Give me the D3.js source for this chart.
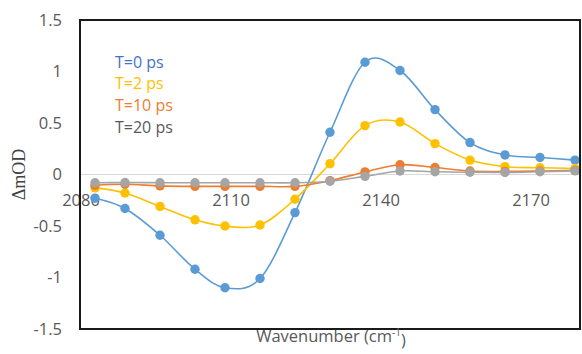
<!DOCTYPE html>
<html>
<head>
<meta charset="utf-8">
<script src="https://cdn.jsdelivr.net/npm/d3@7"></script>
<style>
  body { margin: 0; background: #fff; }
  svg { display: block; }
  .tick-label { font-family: 'Open Sans', sans-serif; font-size: 16.5px; fill: #595959; }
  .legend text { font-family: 'Open Sans', sans-serif; font-size: 16px; }
</style>
</head>
<body>
<svg id="chart"></svg>
<script>
const WIDTH  = 582;
const HEIGHT = 354;
const PLOT   = { left: 80, right: 580, top: 20, bottom: 329 };

// wavenumbers of the measured points (cm-1)
const wavenumbers = [2083, 2089, 2096, 2103, 2109, 2116, 2123, 2130, 2137, 2144, 2151, 2158, 2165, 2172, 2179];

const t0  = [-0.23, -0.33, -0.59, -0.92, -1.10, -1.01, -0.37, 0.41, 1.09, 1.01, 0.63, 0.31, 0.19, 0.165, 0.14];
const t2  = [-0.13, -0.18, -0.31, -0.44, -0.50, -0.49, -0.24, 0.105, 0.475, 0.51, 0.30, 0.14, 0.076, 0.066, 0.058];
const t10 = [-0.105, -0.095, -0.11, -0.115, -0.115, -0.115, -0.115, -0.06, 0.025, 0.095, 0.068, 0.034, 0.03, 0.034, 0.04];
const t20 = [-0.08, -0.078, -0.08, -0.08, -0.08, -0.08, -0.08, -0.065, -0.018, 0.034, 0.027, 0.022, 0.02, 0.027, 0.035];

const seriesNames = ['T=0 ps', 'T=2 ps', 'T=10 ps', 'T=20 ps'];
const lineColors  = ['#5B9BD5', '#FFC000', '#ED7D31', '#A5A5A5'];
const textColors  = ['#4472C4', '#FFC000', '#ED7D31', '#595959'];

const xTicks = [2080, 2110, 2140, 2170];
const yTicks = [-1.5, -1, -0.5, 0, 0.5, 1, 1.5];

const series = [t0, t2, t10, t20].map((values, i) => ({
  name: seriesNames[i],
  color: lineColors[i],
  points: values.map((v, j) => ({ x: wavenumbers[j], y: v }))
}));

const svg = d3.select('#chart')
  .attr('width', WIDTH)
  .attr('height', HEIGHT);

const x = d3.scaleLinear().domain([2080, 2180]).range([PLOT.left, PLOT.right]);
const y = d3.scaleLinear().domain([-1.5, 1.5]).range([PLOT.bottom, PLOT.top]);

// zero line
svg.append('line')
  .attr('x1', PLOT.left).attr('x2', PLOT.right)
  .attr('y1', y(0)).attr('y2', y(0))
  .attr('stroke', '#D9D9D9')
  .attr('stroke-width', 1.2);

// y tick labels (no tick marks)
svg.append('g').selectAll('text')
  .data(yTicks)
  .enter().append('text')
    .attr('class', 'tick-label')
    .attr('x', 62)
    .attr('y', d => y(d))
    .attr('dy', '0.35em')
    .attr('text-anchor', 'end')
    .text(d => d);

// x tick labels sit below the zero crossing
svg.append('g').selectAll('text')
  .data(xTicks)
  .enter().append('text')
    .attr('class', 'tick-label')
    .attr('x', d => x(d) + 1)
    .attr('y', y(0) + 26)
    .attr('dy', '0.35em')
    .attr('text-anchor', 'middle')
    .text(d => d);

const line = d3.line()
  .x(d => x(d.x))
  .y(d => y(d.y))
  .curve(d3.curveCardinal.tension(0));

const groups = svg.selectAll('.series')
  .data(series)
  .enter().append('g')
    .attr('class', 'series');

groups.append('path')
  .attr('d', d => line(d.points))
  .attr('fill', 'none')
  .attr('stroke', d => d.color)
  .attr('stroke-width', 1.6);

groups.selectAll('circle')
  .data(d => d.points.map(p => ({ ...p, color: d.color })))
  .enter().append('circle')
    .attr('cx', d => x(d.x))
    .attr('cy', d => y(d.y))
    .attr('r', 4.7)
    .attr('fill', d => d.color);

// plot frame
svg.append('rect')
  .attr('x', PLOT.left)
  .attr('y', PLOT.top)
  .attr('width', PLOT.right - PLOT.left)
  .attr('height', PLOT.bottom - PLOT.top)
  .attr('fill', 'none')
  .attr('stroke', '#1a1a1a')
  .attr('stroke-width', 2);

// legend
svg.append('g')
  .attr('class', 'legend')
  .selectAll('text')
  .data(seriesNames)
  .enter().append('text')
    .attr('x', 115)
    .attr('y', (d, i) => 62 + i * 21.8)
    .attr('dy', '0.35em')
    .attr('fill', (d, i) => textColors[i])
    .text(d => d);

// axis titles
svg.append('text')
  .attr('transform', `translate(25,${y(0)}) rotate(-90)`)
  .attr('text-anchor', 'middle')
  .attr('font-family', "'Liberation Serif', serif")
  .attr('font-size', 18)
  .attr('fill', '#404040')
  .text('ΔmOD');

const xTitle = svg.append('text')
  .attr('x', 331)
  .attr('y', 336)
  .attr('dy', '0.35em')
  .attr('text-anchor', 'middle')
  .attr('font-family', "'Open Sans', sans-serif")
  .attr('font-size', 16.5)
  .attr('fill', '#595959');
xTitle.append('tspan').text('Wavenumber (cm');
xTitle.append('tspan').attr('font-size', 10).attr('dy', '-0.6em').text('-1');
xTitle.append('tspan').attr('dy', '0.6em').text(')');
</script>
</body>
</html>
